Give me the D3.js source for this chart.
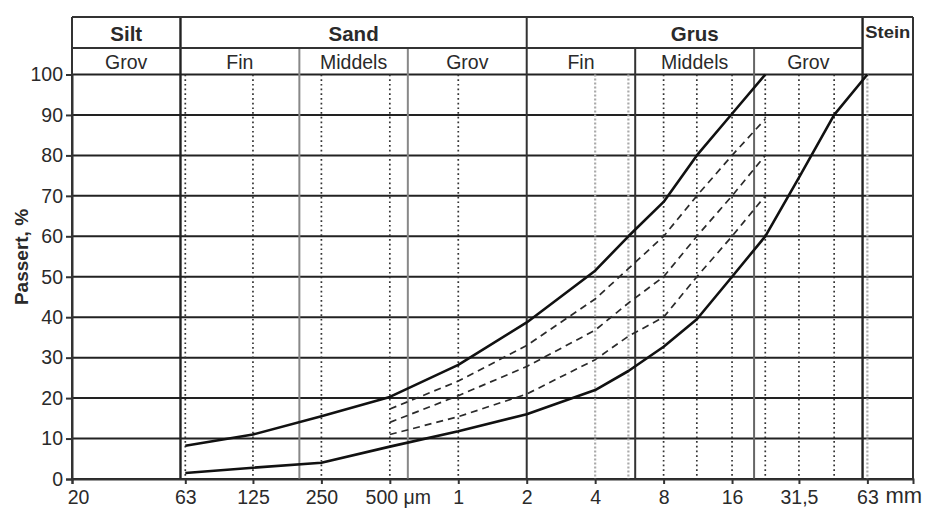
<!DOCTYPE html>
<html><head><meta charset="utf-8">
<script src="https://cdn.jsdelivr.net/npm/d3@7"></script>
<style>
body{margin:0;background:#fff}
svg{display:block}
text{font-family:"Liberation Sans",Arial,Helvetica,sans-serif;fill:#2a2a2a}
</style>
</head><body>
<svg id="chart" width="930" height="510"></svg>
<script>
// ---------- data ----------
const xTickSizes  = [0.02, 0.063, 0.125, 0.25, 0.5, 1, 2, 4, 8, 16, 31.5, 63];
const xTickLabels = ["20", "63", "125", "250", "500 μm", "1", "2", "4", "8", "16", "31,5", "63"];
const yTickValues = [0, 10, 20, 30, 40, 50, 60, 70, 80, 90, 100];

const fractionBounds = [0.06, 0.2, 0.6, 2, 6, 20, 60];
const sievesDark  = [0.063, 0.125, 0.25, 0.5, 1, 8, 11.2, 16, 22.4, 31.5, 45];
const sievesLight = [4, 5.6, 63];

const headerMain      = ["Silt", "Sand", "Grus", "Stein"];
const headerMainEdges = [0.02, 0.06, 2, 60, 100];
const headerSub       = ["Grov", "Fin", "Middels", "Grov", "Fin", "Middels", "Grov"];
const headerSubEdges  = [0.02, 0.06, 0.2, 0.6, 2, 6, 20, 60];

const upperSizes = [0.063, 0.125, 0.25, 0.5, 1, 2, 4, 5.6, 8, 11.2, 16, 22.4];
const upperPass  = [8.2, 11, 15.5, 20.3, 28.2, 38.7, 51.5, 60, 68.5, 80, 90.3, 100];

const lowerSizes = [0.063, 0.125, 0.25, 0.5, 1, 2, 4, 5.6, 8, 11.2, 16, 22.4, 31.5, 45, 63];
const lowerPass  = [1.5, 2.8, 4, 8, 11.8, 16, 22, 26.7, 32.7, 39.5, 50, 60, 74.5, 90, 100];

const midSizes  = [0.5, 1, 2, 4, 5.6, 8, 11.2, 16, 22.4];
const midPassA  = [17.3, 24.2, 33, 44.5, 52, 60, 70, 80, 89];
const midPassB  = [14, 20.6, 27.8, 36.8, 43.5, 50, 60, 70, 80];
const midPassC  = [11, 15.4, 21, 29.5, 35.3, 40, 50, 60, 70];

// ---------- layout ----------
const svg = d3.select("#chart");
const pL = 72, pR = 913, pT = 74.5, pB = 479, headTop = 17, headMid = 48;

const x = d3.scaleLog().domain([0.02, 100]).range([pL, pR]);
const y = d3.scaleLinear().domain([0, 100]).range([pB, pT]);

const g = svg.append("g");

// horizontal grid
g.selectAll("line.hgrid").data(yTickValues).join("line")
  .attr("x1", pL).attr("x2", pR)
  .attr("y1", d => y(d)).attr("y2", d => y(d))
  .attr("stroke", "#222").attr("stroke-width", 2);

// sieve dotted lines
g.selectAll("line.sd").data(sievesDark).join("line")
  .attr("x1", d => x(d)).attr("x2", d => x(d))
  .attr("y1", pT).attr("y2", pB)
  .attr("stroke", "#333").attr("stroke-width", 1.7)
  .attr("stroke-dasharray", "1.7,3");
g.selectAll("line.sl").data(sievesLight).join("line")
  .attr("x1", d => x(d)).attr("x2", d => x(d))
  .attr("y1", pT).attr("y2", pB)
  .attr("stroke", "#aaa").attr("stroke-width", 2.2)
  .attr("stroke-dasharray", "2,2");

// fraction boundaries (solid)
const boundStyle = {0.06: ["#222", 2.4], 0.2: ["#888", 2], 0.6: ["#888", 2], 2: ["#333", 2], 6: ["#333", 2], 20: ["#666", 2], 60: ["#222", 2.4]};
const mainBounds = [0.06, 2, 60];
g.selectAll("line.fb").data(fractionBounds).join("line")
  .attr("x1", d => x(d)).attr("x2", d => x(d))
  .attr("y1", d => mainBounds.includes(d) ? headTop : headMid).attr("y2", pB)
  .attr("stroke", d => boundStyle[d][0]).attr("stroke-width", d => boundStyle[d][1]);

// header frame
g.append("line").attr("x1", pL).attr("x2", pR).attr("y1", headTop).attr("y2", headTop)
  .attr("stroke", "#333").attr("stroke-width", 2);
g.append("line").attr("x1", pL).attr("x2", x(60)).attr("y1", headMid).attr("y2", headMid)
  .attr("stroke", "#333").attr("stroke-width", 2);
g.append("line").attr("x1", pL).attr("x2", pL).attr("y1", headTop).attr("y2", pB)
  .attr("stroke", "#333").attr("stroke-width", 2);
g.append("line").attr("x1", pR).attr("x2", pR).attr("y1", headTop).attr("y2", pB)
  .attr("stroke", "#333").attr("stroke-width", 2);

// header texts
headerMain.forEach((t, i) => {
  const cx = (x(headerMainEdges[i]) + x(headerMainEdges[i + 1])) / 2;
  const txt = g.append("text").attr("x", cx).attr("text-anchor", "middle")
    .attr("font-weight", "bold").text(t);
  if (t === "Stein") {
    txt.attr("y", 37.5).attr("font-size", 16).attr("textLength", 45).attr("lengthAdjust", "spacingAndGlyphs");
  } else {
    txt.attr("y", 40.5).attr("font-size", 20.5);
  }
});
headerSub.forEach((t, i) => {
  const cx = (x(headerSubEdges[i]) + x(headerSubEdges[i + 1])) / 2;
  g.append("text").attr("x", cx).attr("y", 69).attr("text-anchor", "middle")
    .attr("font-size", 19.5).text(t);
});

// curves
const line = d3.line().x(d => x(d[0])).y(d => y(d[1])).curve(d3.curveLinear);
const zip = (a, b) => a.map((v, i) => [v, b[i]]);

[midPassA, midPassB, midPassC].forEach(p => {
  g.append("path").attr("d", line(zip(midSizes, p)))
    .attr("fill", "none").attr("stroke", "#2a2a2a").attr("stroke-width", 1.7)
    .attr("stroke-linejoin", "round")
    .attr("stroke-dasharray", "7,5");
});
[[upperSizes, upperPass], [lowerSizes, lowerPass]].forEach(([s, p]) => {
  g.append("path").attr("d", line(zip(s, p)))
    .attr("fill", "none").attr("stroke", "#111").attr("stroke-width", 2.6)
    .attr("stroke-linejoin", "round");
});

// y axis
const yAxis = d3.axisLeft(y).tickValues(yTickValues).tickSize(6).tickPadding(3);
const ya = svg.append("g").attr("transform", `translate(${pL},0)`).call(yAxis);
ya.select(".domain").attr("stroke", "#333").attr("stroke-width", 2);
ya.selectAll(".tick line").attr("stroke", "#333").attr("stroke-width", 2);
ya.selectAll(".tick text").attr("font-size", 19.5).attr("fill", "#2a2a2a")
  .attr("font-family", "'Liberation Sans', Arial, sans-serif");

// x axis
const xAxis = d3.axisBottom(x).tickValues(xTickSizes)
  .tickFormat((d, i) => xTickLabels[i]).tickSize(5).tickPadding(6);
const xa = svg.append("g").attr("transform", `translate(0,${pB})`).call(xAxis);
xa.select(".domain").attr("stroke", "#333").attr("stroke-width", 2);
xa.selectAll(".tick line").attr("stroke", "#333").attr("stroke-width", 2);
xa.selectAll(".tick text").attr("font-size", 19.5).attr("fill", "#2a2a2a")
  .attr("font-family", "'Liberation Sans', Arial, sans-serif")
  .attr("dx", (d, i) => i === 0 ? 6 : (xTickLabels[i].indexOf("μm") >= 0 ? 8 : 0));

// unit "mm" (serif) after last tick
svg.append("text").attr("x", x(63) + 18).attr("y", 503)
  .attr("font-family", "'Liberation Serif', 'Times New Roman', serif")
  .attr("font-size", 22).attr("fill", "#2a2a2a").text("mm");

// y label
svg.append("text").attr("transform", "translate(28,257) rotate(-90)")
  .attr("text-anchor", "middle").attr("font-weight", "bold").attr("font-size", 19)
  .text("Passert, %");
</script>
</body></html>
